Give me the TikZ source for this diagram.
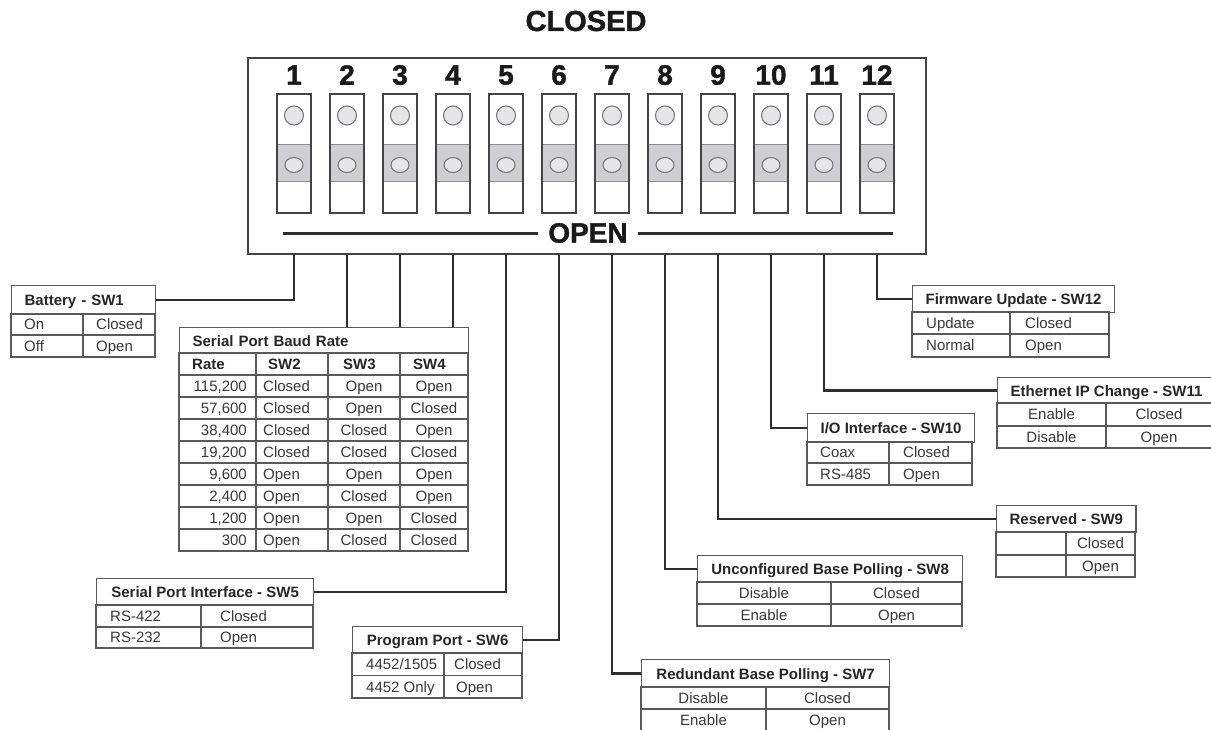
\documentclass[tikz,border=0pt]{standalone}
\usepackage{fontspec}
\setmainfont{Liberation Sans}
\newfontfamily\heavyfont[BoldFeatures={FakeBold=1.3}]{Liberation Sans}
\usetikzlibrary{positioning}

\definecolor{wire}{HTML}{2E2E2E}
\definecolor{gridline}{HTML}{5A5A5A}
\definecolor{celltext}{HTML}{383838}
\definecolor{dipline}{HTML}{444444}
\definecolor{bandfill}{HTML}{CFCFD2}
\definecolor{bandedge}{HTML}{8C8C8C}
\definecolor{knobfill}{HTML}{E6E6E8}
\definecolor{knobline}{HTML}{7A7A7A}

\tikzset{
  tgrid/.style={draw=gridline, line width=1.3pt},
  hdr/.style={tgrid, font=\fontsize{15}{18}\selectfont\bfseries, text=black!85, inner xsep=13pt, inner ysep=0pt, text height=10.7pt, text depth=0pt, anchor=north west},
  tcell/.style={font=\fontsize{15}{18}\selectfont, text=celltext, inner sep=0pt, text height=10.7pt, text depth=0pt},
  wirepath/.style={draw=wire, line width=2.4pt},
  dip/.style={draw=dipline, line width=1.5pt, minimum width=34pt, minimum height=119pt, inner sep=0pt},
  num/.style={font=\heavyfont\fontsize{28}{30}\selectfont\bfseries, text=black!90, inner sep=0pt},
  knob/.style={draw=knobline, fill=knobfill, line width=1.1pt},
}

\begin{document}
\begin{tikzpicture}[x=1pt,y=-1pt]
\useasboundingbox (0,0) rectangle (1211,729);

% top label and switch housing
\node[font=\heavyfont\fontsize{29}{30}\selectfont\bfseries, text=black!90] (closed) at (586,21) {CLOSED};
\node[draw=dipline, line width=2pt, minimum width=678pt, minimum height=196pt, inner sep=0pt, anchor=north west] (dipbox) at (247,57) {};

% the twelve switches
\foreach \i [evaluate=\i as \cx using 294+53*(\i-1)] in {1,...,12}{
  \fill[bandfill] (\cx-17,144) rectangle (\cx+17,181);
  \draw[bandedge, line width=1pt] (\cx-17,144) -- (\cx+17,144) (\cx-17,181) -- (\cx+17,181);
  \node[dip] (s\i) at (\cx,153.5) {};
  \draw[knob] (\cx,115.5) circle[radius=9.5pt];
  \draw[knob] (\cx,165) ellipse[x radius=9pt, y radius=7.5pt];
  \node[num] (n\i) at (\cx,75) {\i};
}

% open bar
\node[font=\heavyfont\fontsize{28}{30}\selectfont\bfseries, text=black!90, inner xsep=10pt] (open) at (588,233) {OPEN};
\coordinate (openL) at (283,233);
\coordinate (openR) at (893,233);
\draw[wire, line width=3pt] (openL) -- (open.west) (open.east) -- (openR);

% SW1
\node[hdr, text width=118pt, align=left, minimum height=29pt] (bat) at (11,285) {Battery - SW1};
\draw[tgrid] (11,314) rectangle (155,357) (11,335) -- (155,335) (83,314) -- (83,357);
\node[tcell, anchor=west] (bat11) at (24,324.5) {On};
\node[tcell, anchor=west] (bat12) at (96,324.5) {Closed};
\node[tcell, anchor=west] (bat21) at (24,346) {Off};
\node[tcell, anchor=west] (bat22) at (96,346) {Open};

% SW2 - SW4
\node[hdr, text width=263pt, align=left, minimum height=26pt] (baud) at (179,327) {Serial Port Baud Rate};
\draw[tgrid] (179,353) rectangle (468,551);
\foreach \y in {375,397,...,529} \draw[tgrid] (179,\y) -- (468,\y);
\draw[tgrid] (256,353) -- (256,551) (328,353) -- (328,551) (400,353) -- (400,551);
\node[tcell, font=\fontsize{15}{18}\selectfont\bfseries, text=black!85, anchor=west] (baudR) at (192,364) {Rate};
\node[tcell, font=\fontsize{15}{18}\selectfont\bfseries, text=black!85, anchor=west] (baudA) at (268,364) {SW2};
\node[tcell, font=\fontsize{15}{18}\selectfont\bfseries, text=black!85, anchor=west] (baudB) at (343,364) {SW3};
\node[tcell, font=\fontsize{15}{18}\selectfont\bfseries, text=black!85, anchor=west] (baudC) at (413,364) {SW4};
\foreach \r/\a/\b/\c [count=\k from 0, evaluate=\k as \ry using 386+22*\k] in
  {115{,}200/Closed/Open/Open, 57{,}600/Closed/Open/Closed, 38{,}400/Closed/Closed/Open,
   19{,}200/Closed/Closed/Closed, 9{,}600/Open/Open/Open, 2{,}400/Open/Closed/Open,
   1{,}200/Open/Open/Closed, 300/Open/Closed/Closed}{
  \node[tcell, anchor=east] (rate\k) at (247,\ry) {\r};
  \node[tcell, anchor=west] (swa\k) at (263,\ry) {\a};
  \node[tcell] (swb\k) at (364,\ry) {\b};
  \node[tcell] (swc\k) at (434,\ry) {\c};
}

% SW5
\node[hdr, minimum width=217pt, minimum height=27pt] (spi) at (96,578) {Serial Port Interface - SW5};
\draw[tgrid] (96,605) rectangle (313,648) (96,627) -- (313,627) (201,605) -- (201,648);
\node[tcell, anchor=west] (spi11) at (110,616) {RS-422};
\node[tcell, anchor=west] (spi12) at (220,616) {Closed};
\node[tcell, anchor=west] (spi21) at (110,637.5) {RS-232};
\node[tcell, anchor=west] (spi22) at (220,637.5) {Open};

% SW6
\node[hdr, minimum width=170pt, minimum height=27pt] (prog) at (352,626) {Program Port - SW6};
\draw[tgrid] (352,653) rectangle (522,698) (352,675.5) -- (522,675.5) (444,653) -- (444,698);
\node[tcell, anchor=west] (prog11) at (366,664.5) {4452/1505};
\node[tcell, anchor=west] (prog12) at (454,664.5) {Closed};
\node[tcell, anchor=west] (prog21) at (366,687) {4452 Only};
\node[tcell, anchor=west] (prog22) at (456,687) {Open};

% SW7
\node[hdr, minimum width=248pt, minimum height=28pt] (red) at (641,659) {Redundant Base Polling - SW7};
\draw[tgrid] (641,687) rectangle (889,731) (641,709) -- (889,709) (766,687) -- (766,731);
\node[tcell] (red11) at (703.5,698) {Disable};
\node[tcell] (red12) at (827.5,698) {Closed};
\node[tcell] (red21) at (703.5,720) {Enable};
\node[tcell] (red22) at (827.5,720) {Open};

% SW8
\node[hdr, minimum width=265pt, minimum height=27pt] (unc) at (697,555) {Unconfigured Base Polling - SW8};
\draw[tgrid] (697,582) rectangle (962,626) (697,604) -- (962,604) (831,582) -- (831,626);
\node[tcell] (unc11) at (764,593) {Disable};
\node[tcell] (unc12) at (896.5,593) {Closed};
\node[tcell] (unc21) at (764,615) {Enable};
\node[tcell] (unc22) at (896.5,615) {Open};

% SW9
\node[hdr, minimum width=139pt, minimum height=27pt] (res) at (996,505) {Reserved - SW9};
\draw[tgrid] (996,532) rectangle (1135,577) (996,555) -- (1135,555) (1066,532) -- (1066,577);
\node[tcell] (res12) at (1100.5,543.5) {Closed};
\node[tcell] (res22) at (1100.5,566) {Open};

% SW10
\node[hdr, minimum width=165pt, minimum height=29pt] (io) at (807,413) {I/O Interface - SW10};
\draw[tgrid] (807,442) rectangle (972,485) (807,463) -- (972,463) (889,442) -- (889,485);
\node[tcell, anchor=west] (io11) at (820,452.5) {Coax};
\node[tcell, anchor=west] (io12) at (903,452.5) {Closed};
\node[tcell, anchor=west] (io21) at (820,474) {RS-485};
\node[tcell, anchor=west] (io22) at (903,474) {Open};

% SW11
\node[hdr, minimum width=215pt, minimum height=26pt] (eth) at (997,377) {Ethernet IP Change - SW11};
\draw[tgrid] (997,403) rectangle (1212,448) (997,426) -- (1212,426) (1106,403) -- (1106,448);
\node[tcell] (eth11) at (1051.5,414.5) {Enable};
\node[tcell] (eth12) at (1159,414.5) {Closed};
\node[tcell] (eth21) at (1051.5,437) {Disable};
\node[tcell] (eth22) at (1159,437) {Open};

% SW12
\node[hdr, minimum width=197pt, minimum height=27pt] (fw) at (912,285) {Firmware Update - SW12};
\draw[tgrid] (912,312) rectangle (1109,357) (912,334) -- (1109,334) (1010,312) -- (1010,357);
\node[tcell, anchor=west] (fw11) at (926,323) {Update};
\node[tcell, anchor=west] (fw12) at (1025,323) {Closed};
\node[tcell, anchor=west] (fw21) at (926,345.5) {Normal};
\node[tcell, anchor=west] (fw22) at (1025,345.5) {Open};

% connectors from the switches
\draw[wirepath] (s1.south |- dipbox.south) |- (bat.east);
\draw[wirepath] (s2.south |- dipbox.south) -- (s2.south |- baud.north);
\draw[wirepath] (s3.south |- dipbox.south) -- (s3.south |- baud.north);
\draw[wirepath] (s4.south |- dipbox.south) -- (s4.south |- baud.north);
\draw[wirepath] (s5.south |- dipbox.south) |- (spi.east);
\draw[wirepath] (s6.south |- dipbox.south) |- (prog.east);
\draw[wirepath] (s7.south |- dipbox.south) |- (red.west);
\draw[wirepath] (s8.south |- dipbox.south) |- (unc.west);
\draw[wirepath] (s9.south |- dipbox.south) |- (res.west);
\draw[wirepath] (s10.south |- dipbox.south) |- (io.west);
\draw[wirepath] (s11.south |- dipbox.south) |- (eth.west);
\draw[wirepath] (s12.south |- dipbox.south) |- (fw.west);
\end{tikzpicture}
\end{document}
